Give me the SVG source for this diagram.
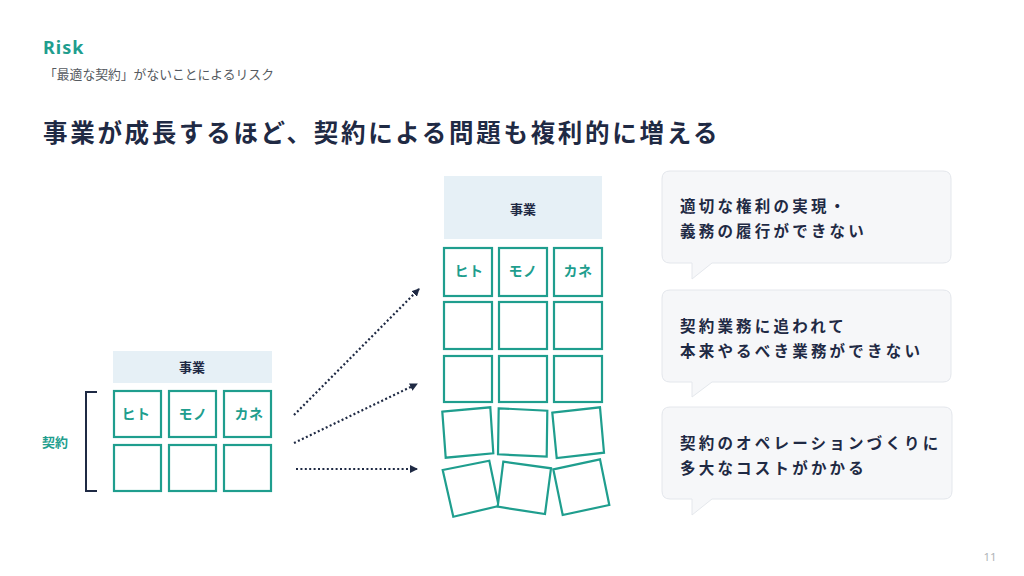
<svg xmlns="http://www.w3.org/2000/svg" width="1024" height="576" viewBox="0 0 1024 576">
<style>
.jp{font-family:"Noto Sans CJK JP","Noto Sans",sans-serif;}
.box{fill:#ffffff;stroke:#1f9e8e;stroke-width:2.2;}
.hdr{fill:#e6f0f6;}
.hdrt{font-family:"Noto Sans CJK JP",sans-serif;font-weight:700;font-size:13px;fill:#1f2a44;text-anchor:middle;}
.lbl{font-family:"Noto Sans CJK JP",sans-serif;font-weight:700;font-size:14px;fill:#1f9e8e;text-anchor:middle;letter-spacing:0.5px;}
.bub{fill:#f6f7f9;stroke:#e4e7ec;stroke-width:1;}
.bubt{font-family:"Noto Sans CJK JP",sans-serif;font-weight:700;font-size:15.5px;fill:#1f2a44;letter-spacing:3.2px;}
.arr{stroke:#1f2a44;stroke-width:2.2;stroke-dasharray:2 2.4;fill:none;}
</style>
<defs>
<marker id="ah" markerWidth="8" markerHeight="8" refX="7" refY="4" orient="auto" markerUnits="userSpaceOnUse">
<path d="M0,0 L8,4 L0,8 Z" fill="#1f2a44"/>
</marker>
</defs>
<rect width="1024" height="576" fill="#ffffff"/>
<g id="header">
<text x="43" y="54" font-family="'Noto Sans',sans-serif" font-weight="700" font-size="18" fill="#1f9e8e" letter-spacing="1">Risk</text>
<text x="44" y="79" class="jp" font-size="12.8" fill="#555a60">「最適な契約」がないことによるリスク</text>
<text x="43" y="142" class="jp" font-weight="700" font-size="24.5" fill="#1f2a44" letter-spacing="2.7">事業が成長するほど、契約による問題も複利的に増える</text>
</g>
<g id="left-block">
<rect class="hdr" x="113" y="351" width="159" height="32"/>
<text class="hdrt" x="192" y="372">事業</text>
<rect class="box" x="114" y="391" width="47" height="46"/>
<rect class="box" x="169" y="391" width="47" height="46"/>
<rect class="box" x="224" y="391" width="47" height="46"/>
<text class="lbl" x="136" y="419">ヒト</text>
<text class="lbl" x="193" y="419">モノ</text>
<text class="lbl" x="249" y="419">カネ</text>
<rect class="box" x="114" y="445" width="47" height="46"/>
<rect class="box" x="169" y="445" width="47" height="46"/>
<rect class="box" x="224" y="445" width="47" height="46"/>
</g>
<g id="bracket">
<path d="M97,392 L86,392 L86,491 L97,491" fill="none" stroke="#1f2a44" stroke-width="2"/>
<text x="42" y="447" class="jp" font-weight="700" font-size="13" fill="#1f9e8e">契約</text>
</g>
<g id="connectors">
<line class="arr" x1="294" y1="415" x2="419" y2="289" marker-end="url(#ah)"/>
<line class="arr" x1="294" y1="443" x2="417" y2="384" marker-end="url(#ah)"/>
<line class="arr" x1="296" y1="469" x2="417" y2="469" marker-end="url(#ah)"/>
</g>
<g id="right-block">
<rect class="hdr" x="444" y="176" width="158" height="63"/>
<text class="hdrt" x="523" y="214">事業</text>
<rect class="box" x="444" y="248" width="48" height="48"/>
<rect class="box" x="499" y="248" width="48" height="48"/>
<rect class="box" x="554" y="248" width="48" height="48"/>
<text class="lbl" x="469" y="276">ヒト</text>
<text class="lbl" x="523" y="276">モノ</text>
<text class="lbl" x="578" y="276">カネ</text>
<rect class="box" x="444" y="302" width="48" height="47"/>
<rect class="box" x="499" y="302" width="48" height="47"/>
<rect class="box" x="554" y="302" width="48" height="47"/>
<rect class="box" x="444" y="356" width="48" height="46"/>
<rect class="box" x="499" y="356" width="48" height="46"/>
<rect class="box" x="554" y="356" width="48" height="46"/>
<polygon class="box" points="442.3,411.7 490.3,407.3 493.3,453.3 445.7,457.7"/>
<polygon class="box" points="498.7,408.3 547.3,410.7 546.7,456.7 498,454.3"/>
<polygon class="box" points="552.3,412.7 600,407.3 604,452.7 556.7,458"/>
<polygon class="box" points="442.7,470 489.3,460.7 498.7,506 453.3,516.7"/>
<polygon class="box" points="503.3,461.7 551,468.3 545,514 497.7,506.7"/>
<polygon class="box" points="553.3,469.3 600,459.3 609.3,505 562.7,515"/>
</g>
<g id="bubble1">
<path class="bub" d="M670,171 H943 Q951,171 951,179 V255 Q951,263 943,263 H712 L692,279 V263 H670 Q662,263 662,255 V179 Q662,171 670,171 Z"/>
<text class="bubt" x="680" y="212">適切な権利の実現・</text>
<text class="bubt" x="680" y="237">義務の履行ができない</text>
</g>
<g id="bubble2">
<path class="bub" d="M670,290 H943 Q951,290 951,298 V374 Q951,382 943,382 H712 L692,397 V382 H670 Q662,382 662,374 V298 Q662,290 670,290 Z"/>
<text class="bubt" x="680" y="332">契約業務に追われて</text>
<text class="bubt" x="680" y="357">本来やるべき業務ができない</text>
</g>
<g id="bubble3">
<path class="bub" d="M670,407 H944 Q952,407 952,415 V491 Q952,499 944,499 H712 L692,515 V499 H670 Q662,499 662,491 V415 Q662,407 670,407 Z"/>
<text class="bubt" x="680" y="449">契約のオペレーションづくりに</text>
<text class="bubt" x="680" y="474">多大なコストがかかる</text>
</g>
<text x="990" y="561" font-family="'Noto Sans',sans-serif" font-size="11.5" fill="#b0b4b8" text-anchor="middle">11</text>
</svg>
